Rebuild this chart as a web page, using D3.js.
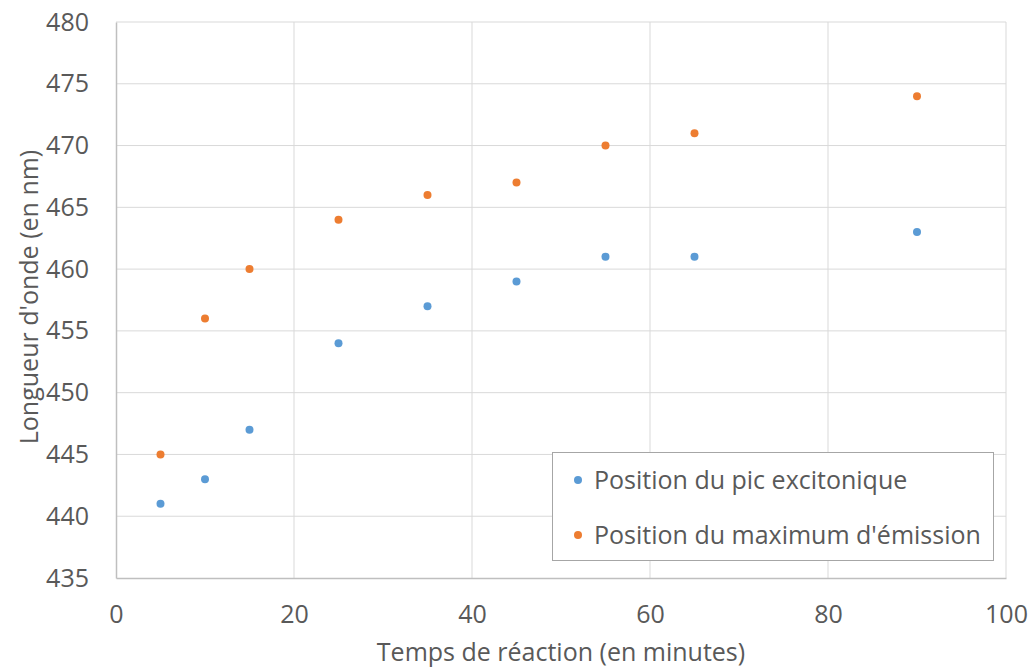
<!DOCTYPE html>
<html><head><meta charset="utf-8">
<script src="https://cdn.jsdelivr.net/npm/d3@7"></script>
<style>body{margin:0;background:#fff;} text{font-family:"Open Sans","Noto Sans",sans-serif;}</style>
</head><body>
<svg id="c" width="1032" height="668"></svg>
<script>
const times = [5,10,15,25,35,45,55,65,90];
const excitonique = [441,443,447,454,457,459,461,461,463];
const emission = [445,456,460,464,466,467,470,471,474];
const seriesNames = ["Position du pic excitonique","Position du maximum d'émission"];
const seriesColors = ["#5b9bd5","#ed7d31"];
const xTicks = [0,20,40,60,80,100];
const yTicks = [435,440,445,450,455,460,465,470,475,480];

const svg = d3.select("#c");
const L=116,R=1006,T=22,B=578;
const x = d3.scaleLinear().domain([0,100]).range([L,R]);
const y = d3.scaleLinear().domain([435,480]).range([B,T]);

// gridlines
svg.append("g").selectAll("line").data(yTicks.slice(1)).join("line")
  .attr("x1",L).attr("x2",R).attr("y1",d=>y(d)).attr("y2",d=>y(d))
  .attr("stroke","#d9d9d9").attr("stroke-width",1);
svg.append("g").selectAll("line").data(xTicks.slice(1)).join("line")
  .attr("y1",T).attr("y2",B).attr("x1",d=>x(d)).attr("x2",d=>x(d))
  .attr("stroke","#d9d9d9").attr("stroke-width",1);

// axes
const xa = svg.append("g").attr("transform",`translate(0,${B})`)
  .call(d3.axisBottom(x).tickValues(xTicks).tickSize(0).tickPadding(27));
xa.select(".domain").attr("stroke","#bfbfbf").attr("stroke-width",1.5);
xa.selectAll("text").attr("font-size",25).attr("fill","#595959");
const ya = svg.append("g").attr("transform",`translate(${L},0)`)
  .call(d3.axisLeft(y).tickValues(yTicks).tickSize(0).tickPadding(27));
ya.select(".domain").attr("stroke","#bfbfbf").attr("stroke-width",1.5);
ya.selectAll("text").attr("font-size",25).attr("fill","#595959");

svg.append("text").attr("x",x(50)).attr("y",661).attr("text-anchor","middle")
  .attr("font-size",25).attr("fill","#595959").text("Temps de réaction (en minutes)");
svg.append("text").attr("transform",`translate(38,${(T+B)/2 - 3}) rotate(-90)`).attr("text-anchor","middle")
  .attr("font-size",25).attr("fill","#595959").text("Longueur d'onde (en nm)");

// points
[excitonique, emission].forEach((vals,i)=>{
  svg.append("g").selectAll("circle").data(times.map((t,j)=>[t,vals[j]])).join("circle")
    .attr("cx",d=>x(d[0])).attr("cy",d=>y(d[1])).attr("r",4).attr("fill",seriesColors[i]);
});

// legend
const lg = svg.append("g");
lg.append("rect").attr("x",552.5).attr("y",452.5).attr("width",441).attr("height",108)
  .attr("fill","#fff").attr("stroke","#a6a6a6").attr("stroke-width",1);
seriesNames.forEach((n,i)=>{
  const yy = 480 + i*55;
  lg.append("circle").attr("cx",578).attr("cy",yy).attr("r",4).attr("fill",seriesColors[i]);
  lg.append("text").attr("x",594).attr("y",yy).attr("dy","0.35em").attr("font-size",25)
    .attr("fill","#595959").text(n);
});
</script>
</body></html>
